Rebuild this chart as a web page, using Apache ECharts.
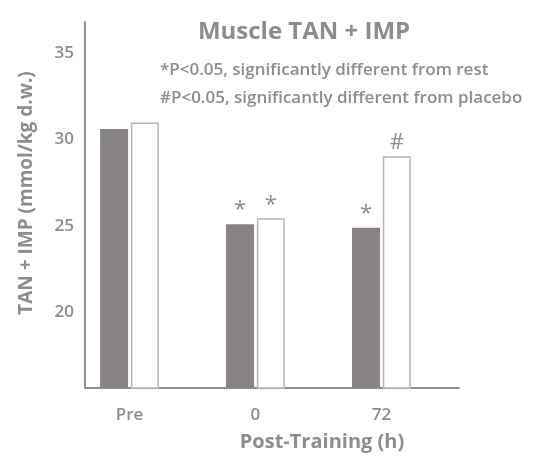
<!DOCTYPE html>
<html>
<head>
<meta charset="utf-8">
<script src="https://cdn.jsdelivr.net/npm/echarts@6/dist/echarts.min.js"></script>
<style>
  html, body { margin: 0; padding: 0; background: #ffffff; }
  #chart { width: 550px; height: 457px; }
</style>
</head>
<body>
<div id="chart"></div>
<script>
// Time points and muscle TAN + IMP (mmol/kg d.w.)
const categories = ['Pre', '0', '72'];
const darkValues = [30.60, 25.09, 24.88];
const whiteValues = [30.98, 25.43, 29.02];
// Significance markers above each bar
const darkMarks = ['', '*', '*'];
const whiteMarks = ['', '*', '#'];
const yTicks = [20, 25, 30, 35];
const notes = [
  '*P<0.05, significantly different from rest',
  '#P<0.05, significantly different from placebo'
];

const textColor = '#8d8d8f';
const axisColor = '#8f8f91';
const sansFont = '"Open Sans", "Liberation Sans", sans-serif';

const chart = echarts.init(document.getElementById('chart'), null, { renderer: 'canvas' });

function markLabel(marks) {
  return {
    show: true,
    position: 'top',
    distance: 3,
    color: textColor,
    fontFamily: sansFont,
    fontSize: 22,
    formatter: p => marks[p.dataIndex]
  };
}

chart.setOption({
  animation: false,
  backgroundColor: '#ffffff',
  title: {
    text: 'Muscle TAN + IMP',
    left: 299,
    top: 15,
    textAlign: 'center',
    textStyle: { color: textColor, fontFamily: sansFont, fontWeight: 'bold', fontSize: 24 }
  },
  graphic: notes.map((t, i) => ({
    type: 'text',
    left: 160,
    top: 62 + i * 28,
    style: { text: t, fill: textColor, font: '600 17px ' + sansFont }
  })),
  grid: { left: 85, right: 91, top: 22, bottom: 61.3 },
  xAxis: {
    type: 'value',
    min: -0.3533,
    max: 2.616,
    splitLine: { show: false },
    axisTick: { show: false },
    axisLine: { show: true, onZero: false, lineStyle: { color: axisColor, width: 2 } },
    axisLabel: {
      customValues: categories.map((c, i) => i),
      formatter: v => categories[Math.round(v)],
      color: textColor,
      fontFamily: sansFont,
      fontWeight: 600,
      fontSize: 17,
      margin: 19
    },
    name: 'Post-Training (h)',
    nameLocation: 'middle',
    nameGap: 44,
    nameTextStyle: { color: textColor, fontFamily: sansFont, fontWeight: 'bold', fontSize: 20, padding: [0, 0, 0, 100] }
  },
  yAxis: {
    type: 'value',
    min: 15.6,
    max: 36.8,
    splitLine: { show: false },
    axisTick: { show: false },
    axisLine: { show: true, onZero: false, lineStyle: { color: axisColor, width: 2 } },
    axisLabel: {
      customValues: yTicks,
      color: textColor,
      fontFamily: sansFont,
      fontWeight: 600,
      fontSize: 17,
      margin: 11
    },
    name: 'TAN + IMP (mmol/kg d.w.)',
    nameLocation: 'middle',
    nameRotate: 90,
    nameGap: 49,
    nameTextStyle: { color: textColor, fontFamily: sansFont, fontWeight: 'bold', fontSize: 19, padding: [0, 0, 0, 24] }
  },
  series: [
    {
      type: 'bar',
      data: darkValues.map((v, i) => [i, v]),
      barWidth: 28,
      barGap: '10%',
      itemStyle: { color: '#878384' },
      label: markLabel(darkMarks)
    },
    {
      type: 'bar',
      data: whiteValues.map((v, i) => [i, v]),
      barWidth: 28,
      barGap: '10%',
      itemStyle: { color: '#ffffff', borderColor: '#b9b7ad', borderWidth: 1.5 },
      label: markLabel(whiteMarks)
    }
  ]
});
</script>
</body>
</html>
